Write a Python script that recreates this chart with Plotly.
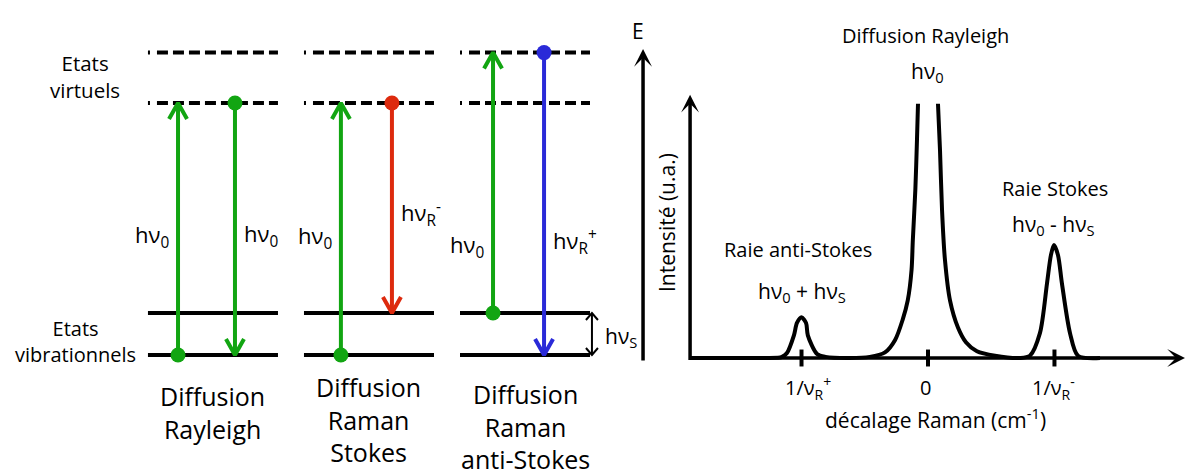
import plotly.graph_objects as go

W, H = 1186, 470
FONT = "Open Sans"
GREEN = "#12a512"
RED = "#dd2a0e"
BLUE = "#2a2ad8"
BLACK = "#000000"

# ---------------- Left panel : energy-level diagram ----------------
process_names = ["Diffusion<br>Rayleigh", "Diffusion<br>Raman<br>Stokes",
                 "Diffusion<br>Raman<br>anti-Stokes"]
group_pos = [0, 1, 2]
real_levels = [0.0, 1.0]          # états vibrationnels
virtual_levels = [6.0, 7.2]       # états virtuels
level_halfwidth = 0.4167

# transitions
trans_group = [0, 0, 1, 1, 2, 2]
trans_offset = [-0.224, 0.141, -0.18, 0.147, -0.205, 0.122]
trans_from = [0.0, 6.0, 0.0, 6.0, 1.0, 7.2]
trans_to = [6.0, 0.0, 6.0, 1.0, 7.2, 0.0]
trans_color = [GREEN, GREEN, GREEN, RED, GREEN, BLUE]
trans_label = ["hν<sub>0</sub>", "hν<sub>0</sub>", "hν<sub>0</sub>",
               "hν<sub>R</sub><sup>-</sup>", "hν<sub>0</sub>", "hν<sub>R</sub><sup>+</sup>"]
label_side = ["left", "right", "left", "right", "left", "right"]
label_E = [2.83, 2.85, 2.81, 3.38, 2.60, 2.71]

# ---------------- Right panel : spectrum ----------------
raman_shift = [-1.88, -1.33, -1.17, -1.154, -1.115, -1.06, -1.036, -1.0, -0.964, -0.95,
               -0.877, -0.81, -0.62, -0.46, -0.34, -0.26, -0.20, -0.16, -0.13, -0.12,
               -0.10, -0.087, -0.079, None,
               0.079, 0.095, 0.111, 0.134, 0.174, 0.237, 0.30, 0.387, 0.53, 0.727,
               0.806, 0.885, 0.941, 0.972, 0.996, 1.028, 1.059, 1.123, 1.186, 1.36]
intensity = [0.0, 0.0, 0.005, 0.01, 0.044, 0.20, 0.31, 0.36, 0.31, 0.20,
             0.035, 0.01, 0.0, 0.01, 0.05, 0.16, 0.34, 0.51, 0.78, 1.04,
             1.49, 1.93, 2.25, None,
             2.25, 1.84, 1.31, 0.87, 0.51, 0.27, 0.14, 0.06, 0.02, 0.0,
             0.02, 0.22, 0.66, 0.91, 1.0, 0.91, 0.66, 0.22, 0.02, 0.0]
tick_vals = [-1, 0, 1]
tick_text = ["1/ν<sub>R</sub><sup>+</sup>", "0", "1/ν<sub>R</sub><sup>-</sup>"]
tick_label_shift = [0.05, -0.02, -0.01]

peak_names = ["Raie anti-Stokes", "Diffusion Rayleigh", "Raie Stokes"]
peak_formula = ["hν<sub>0</sub> + hν<sub>S</sub>", "hν<sub>0</sub>", "hν<sub>0</sub> - hν<sub>S</sub>"]
peak_name_pos = [(-1.028, 0.956), (-0.016, 2.85), (1.004, 1.496)]
peak_formula_pos = [(-0.996, 0.584), (0.0, 2.53), (0.996, 1.177)]

# ---------------- Axes geometry ----------------
X1_DOM = [0, 640 / W]
X1_RANGE = [-1.365, 2.737]
Y1_RANGE = [-2.738, 8.452]
X2_DOM = [640 / W, 1]
X2_RANGE = [-2.277, 2.040]
Y2_RANGE = [-0.991, 3.168]

px_x1 = 640 / (X1_RANGE[1] - X1_RANGE[0])
px_y1 = H / (Y1_RANGE[1] - Y1_RANGE[0])

fig = go.Figure()

# levels
def level_trace(levels, dash):
    xs, ys = [], []
    for g in group_pos:
        for e in levels:
            xs += [g - level_halfwidth, g + level_halfwidth, None]
            ys += [e, e, None]
    return go.Scatter(x=xs, y=ys, mode="lines", xaxis="x", yaxis="y",
                      line=dict(color=BLACK, width=4, dash=dash), hoverinfo="skip")

fig.add_trace(level_trace(real_levels, "solid"))
dash_pat = "2px,7px," + "11px,5px," * 7 + "9px,40px"
fig.add_trace(level_trace(virtual_levels, dash_pat))

# transitions with open V arrowheads and dots
hw = 9 / px_x1
hl = 16 / px_y1
for g, off, e0, e1, col in zip(trans_group, trans_offset, trans_from, trans_to, trans_color):
    x = g + off
    d = 1 if e1 > e0 else -1
    xs = [x, x, None, x - hw, x, x + hw]
    ys = [e0, e1, None, e1 - d * hl, e1, e1 - d * hl]
    fig.add_trace(go.Scatter(x=xs, y=ys, mode="lines", xaxis="x", yaxis="y",
                             line=dict(color=col, width=4), hoverinfo="skip"))
    fig.add_trace(go.Scatter(x=[x], y=[e0], mode="markers", xaxis="x", yaxis="y",
                             marker=dict(color=col, size=15), hoverinfo="skip"))

# h nu_S double arrow
xs_ = 2.429
hw2 = 6 / px_x1
hl2 = 7 / px_y1
e_lo, e_hi = real_levels
fig.add_trace(go.Scatter(
    x=[xs_, xs_, None, xs_ - hw2, xs_, xs_ + hw2, None, xs_ - hw2, xs_, xs_ + hw2],
    y=[e_lo, e_hi, None, e_hi - hl2, e_hi, e_hi - hl2, None, e_lo + hl2, e_lo, e_lo + hl2],
    mode="lines", xaxis="x", yaxis="y", line=dict(color=BLACK, width=2), hoverinfo="skip"))

annotations = []
def ann(text, x, y, xref="x", yref="y", size=20, xanchor="center", yanchor="middle", **kw):
    annotations.append(dict(text=text, x=x, y=y, xref=xref, yref=yref, showarrow=False,
                            font=dict(family=FONT, size=size, color=BLACK),
                            xanchor=xanchor, yanchor=yanchor, **kw))

# left labels
ann("Etats<br>virtuels", -0.819, 6.64, size=20.5)
ann("Etats<br>vibrationnels", -0.884, 0.33, size=20)
proc_E = [-1.36, -1.54, -1.70]
for g, name, e in zip(group_pos, process_names, proc_E):
    ann(name, g, e, size=25)
gap = 7 / px_x1
for g, off, lab, side, e in zip(trans_group, trans_offset, trans_label, label_side, label_E):
    x = g + off
    if side == "left":
        ann(lab, x - gap, e, size=22, xanchor="right")
    else:
        ann(lab, x + gap, e, size=22, xanchor="left")
ann("hν<sub>S</sub>", 2.497, 0.43, size=21, xanchor="left")

# ---------------- spectrum ----------------
fig.add_trace(go.Scatter(x=raman_shift, y=intensity, mode="lines", xaxis="x2", yaxis="y2",
                         line=dict(color=BLACK, width=4, shape="spline", smoothing=0.8),
                         connectgaps=False, hoverinfo="skip"))
tx, ty = [], []
for t in tick_vals:
    tx += [t, t, None]
    ty += [-0.075, 0.075, None]
fig.add_trace(go.Scatter(x=tx, y=ty, mode="lines", xaxis="x2", yaxis="y2",
                         line=dict(color=BLACK, width=4), hoverinfo="skip"))

for t, lab, sh in zip(tick_vals, tick_text, tick_label_shift):
    ann(lab, t + sh, -0.265, xref="x2", yref="y2", size=20)
ann("décalage Raman (cm<sup>-1</sup>)", 0.063, -0.531, xref="x2", yref="y2", size=21)
ann("Intensité (u.a.)", -2.063, 1.195, xref="x2", yref="y2", size=21, textangle=-90)
for name, f, (nx, ny), (fx, fy) in zip(peak_names, peak_formula, peak_name_pos, peak_formula_pos):
    ann(name, nx, ny, xref="x2", yref="y2", size=20)
    ann(f, fx, fy, xref="x2", yref="y2", size=21)
ann("E", 637.5 / W, 1 - 31 / H, xref="paper", yref="paper", size=21)

# axis arrows
def arrow(x0, y0, x1, y1):
    annotations.append(dict(x=x1, y=y1, ax=x0, ay=y0, xref="x2", yref="y2",
                            axref="x2", ayref="y2", showarrow=True, text="",
                            arrowhead=3, arrowsize=0.85, arrowwidth=3.5,
                            arrowcolor=BLACK, standoff=0, startstandoff=0))
arrow(-2.253, -0.035, -2.253, 2.735)      # E axis
arrow(-1.881, -0.03, -1.881, 2.33)        # intensity axis
arrow(-1.881, 0.0, 2.032, 0.0)            # Raman shift axis

fig.update_layout(
    width=W, height=H, margin=dict(l=0, r=0, t=0, b=0),
    paper_bgcolor="white", plot_bgcolor="rgba(0,0,0,0)", showlegend=False,
    xaxis=dict(domain=X1_DOM, range=X1_RANGE, visible=False, anchor="y"),
    yaxis=dict(domain=[0, 1], range=Y1_RANGE, visible=False, anchor="x"),
    xaxis2=dict(domain=X2_DOM, range=X2_RANGE, visible=False, anchor="y2"),
    yaxis2=dict(domain=[0, 1], range=Y2_RANGE, visible=False, anchor="x2"),
    annotations=annotations,
    font=dict(family=FONT),
)

fig.write_html("out.html", config={"displayModeBar": False},
               post_script="document.body.style.margin='0';")
